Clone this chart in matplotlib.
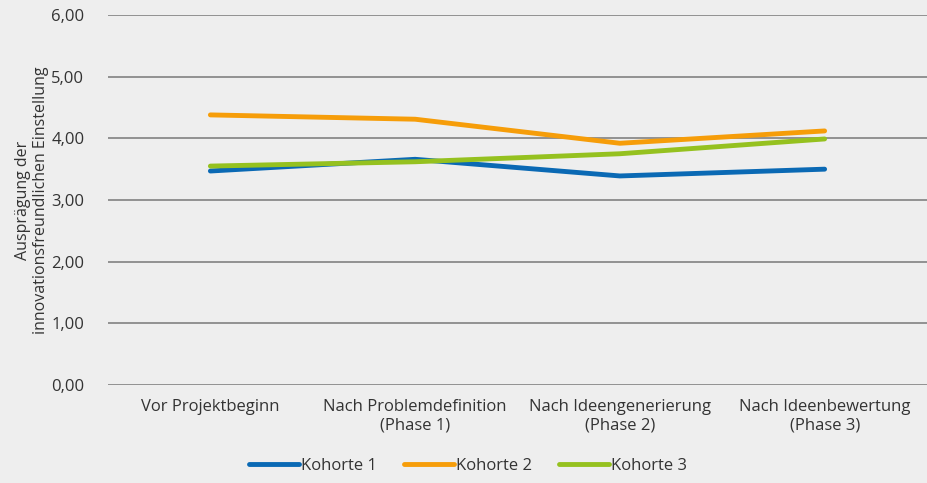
import matplotlib.pyplot as plt

categories = ['Vor Projektbeginn', 'Nach Problemdefinition\n(Phase 1)',
              'Nach Ideengenerierung\n(Phase 2)', 'Nach Ideenbewertung\n(Phase 3)']
kohorte1 = [3.47, 3.66, 3.39, 3.50]
kohorte2 = [4.38, 4.31, 3.92, 4.12]
kohorte3 = [3.55, 3.62, 3.75, 3.99]
yticks = [0, 1, 2, 3, 4, 5, 6]
ytick_labels = ['0,00', '1,00', '2,00', '3,00', '4,00', '5,00', '6,00']


def main():
    plt.rcParams['font.family'] = ['Open Sans', 'DejaVu Sans']
    bg = '#eeeeee'
    fig = plt.figure(figsize=(9.27, 4.83), dpi=100, facecolor=bg)
    ax = fig.add_axes([108 / 927, 1 - 385 / 483, 819 / 927, 370 / 483], facecolor=bg)

    x = range(len(categories))
    ax.plot(x, kohorte1, color='#0a69b4', lw=3.5, label='Kohorte 1', solid_capstyle='round')
    ax.plot(x, kohorte2, color='#f69d09', lw=3.5, label='Kohorte 2', solid_capstyle='round')
    ax.plot(x, kohorte3, color='#95c11f', lw=3.5, label='Kohorte 3', solid_capstyle='round')

    ax.set_xlim(-0.5, 3.5)
    ax.set_ylim(0, 6)
    ax.set_yticks(yticks)
    ax.set_yticklabels(ytick_labels)
    ax.set_xticks(list(x))
    ax.set_xticklabels(categories)
    ax.yaxis.grid(True, color='#8a8a8a', lw=1.3)
    ax.set_axisbelow(True)
    for s in ax.spines.values():
        s.set_visible(False)
    ax.tick_params(axis='y', length=0, labelsize=12, colors='#333333', pad=17)
    ax.tick_params(axis='x', length=0, labelsize=12, colors='#333333', pad=10)

    ax.set_ylabel('Ausprägung der\ninnovationsfreundlichen Einstellung',
                  fontsize=11.5, color='#333333', linespacing=1.15)
    ax.yaxis.set_label_coords(-0.072, 0.5)

    fig.legend(loc='lower center', bbox_to_anchor=(0.505, -0.012), ncol=3, frameon=False,
               fontsize=12, handlelength=3.0, handletextpad=0.15, columnspacing=1.6,
               labelcolor='#333333')

    fig.savefig('out.png', dpi=100, facecolor=bg)


if __name__ == '__main__':
    main()
